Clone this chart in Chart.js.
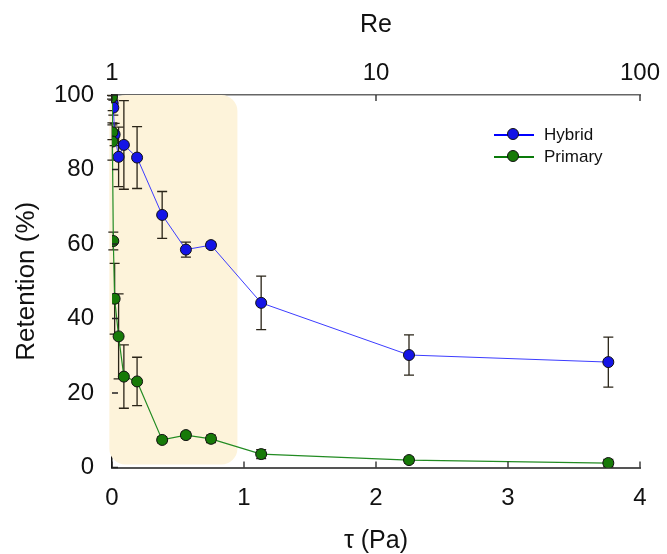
<!DOCTYPE html>
<html>
<head>
<meta charset="utf-8">
<script src="https://cdn.jsdelivr.net/npm/chart.js@4.4.1/dist/chart.umd.min.js"></script>
<style>
  html, body { margin: 0; padding: 0; background: #fff; }
  #wrap { position: relative; width: 667px; height: 554px; }
  #legend { position: absolute; left: 494px; top: 124px; font-family: "Liberation Sans", Arial, sans-serif; font-size: 17px; color: #111; }
  #legend .row { display: flex; align-items: center; height: 22px; }
  #legend .key { position: relative; width: 40px; height: 22px; margin-right: 10px; }
  #legend .key .ln { position: absolute; left: 0; right: 0; top: 10px; height: 1.5px; }
  #legend .key .dot { position: absolute; left: 13px; top: 4px; width: 12px; height: 12px; border-radius: 50%; border: 1px solid #111; box-sizing: border-box; }
</style>
</head>
<body>
<div id="wrap">
  <canvas id="chart" width="667" height="554"></canvas>
  <div id="legend"></div>
</div>
<script>
// shear stress (Pa) and retention (%)
const hybridTau = [0.005, 0.01, 0.02, 0.05, 0.09, 0.19, 0.38, 0.56, 0.75, 1.13, 2.25, 3.76];
const hybridRet = [97.8, 96.6, 89.4, 83.4, 86.6, 83.2, 67.8, 58.5, 59.7, 44.2, 30.2, 28.3];
const hybridErr = [2, 2, 3, 8, 11.9, 8.3, 6.3, 2, 0.8, 7.2, 5.4, 6.7];

const primaryTau = [0, 0.003, 0.003, 0.01, 0.02, 0.05, 0.09, 0.19, 0.38, 0.56, 0.75, 1.13, 2.25, 3.76];
const primaryRet = [99.4, 90, 87.5, 60.8, 45.3, 35.2, 24.4, 23.1, 7.4, 8.7, 7.7, 3.6, 2.0, 1.2];
const primaryErr = [0.5, 2, 5, 2.4, 9.5, 11.4, 8.5, 6.5, 0.8, 0.8, 1, 1.2, 0.8, 1];

const xTicks = [0, 1, 2, 3, 4];
const yTicks = [0, 20, 40, 60, 80, 100];
const reTicks = [1, 10, 100];

// highlighted low-stress region (tau range, retention range)
const regionTau = [-0.02, 0.95];
const regionRet = [0.8, 100];

const FONT = "'Liberation Sans', Arial, sans-serif";
const BLUE = "#1414e6", BLUE_LINE = "#3c3cff";
const GREEN = "#177a08", GREEN_LINE = "#228b22";

function pts(xs, ys) { return xs.map((x, i) => ({ x: x, y: ys[i] })); }

// legend
const series = [
  { name: "Hybrid", fill: BLUE, line: "#0000ff" },
  { name: "Primary", fill: GREEN, line: "#0a7a0a" }
];
const legend = document.getElementById("legend");
series.forEach(s => {
  const row = document.createElement("div");
  row.className = "row";
  row.innerHTML = `<span class="key"><span class="ln" style="background:${s.line}"></span><span class="dot" style="background:${s.fill}"></span></span><span>${s.name}</span>`;
  legend.appendChild(row);
});

const regionPlugin = {
  id: "region",
  beforeDatasetsDraw(chart) {
    const { ctx, scales: { x, y } } = chart;
    const x0 = x.getPixelForValue(regionTau[0]), x1 = x.getPixelForValue(regionTau[1]);
    const y0 = y.getPixelForValue(regionRet[1]), y1 = y.getPixelForValue(regionRet[0]);
    ctx.save();
    ctx.fillStyle = "#fdf3da";
    ctx.beginPath();
    ctx.roundRect(x0, y0, x1 - x0, y1 - y0, 16);
    ctx.fill();
    ctx.restore();
  }
};

const errorBars = {
  id: "errorBars",
  beforeDatasetsDraw(chart) {
    const { ctx, scales: { x, y } } = chart;
    ctx.save();
    ctx.strokeStyle = "#2a2418";
    ctx.lineWidth = 1.3;
    chart.data.datasets.forEach(ds => {
      ds.data.forEach((p, i) => {
        const e = ds.err[i];
        const px = x.getPixelForValue(p.x);
        const top = y.getPixelForValue(p.y + e), bot = y.getPixelForValue(p.y - e);
        ctx.beginPath();
        ctx.moveTo(px, top); ctx.lineTo(px, bot);
        ctx.moveTo(px - 5, top); ctx.lineTo(px + 5, top);
        ctx.moveTo(px - 5, bot); ctx.lineTo(px + 5, bot);
        ctx.stroke();
      });
    });
    ctx.restore();
  }
};

// tick marks pointing into the plot
const innerTicks = {
  id: "innerTicks",
  afterDraw(chart) {
    const { ctx, chartArea: a, scales: { x, y, re } } = chart;
    ctx.save();
    ctx.lineWidth = 1.3;
    ctx.strokeStyle = "#222";
    ctx.beginPath();
    xTicks.forEach(v => { const px = x.getPixelForValue(v); ctx.moveTo(px, a.bottom); ctx.lineTo(px, a.bottom - 6); });
    yTicks.forEach(v => { const py = y.getPixelForValue(v); ctx.moveTo(a.left, py); ctx.lineTo(a.left + 6, py); });
    reTicks.forEach(v => { const px = re.getPixelForValue(v); ctx.moveTo(px, a.top); ctx.lineTo(px, a.top + 6); });
    ctx.stroke();
    ctx.restore();
  }
};

function fixHeight(h) {
  return s => { s.height = h; s.paddingLeft = 0; s.paddingRight = 0; };
}

new Chart(document.getElementById("chart"), {
  type: "line",
  data: {
    datasets: [
      {
        label: "Hybrid",
        data: pts(hybridTau, hybridRet),
        err: hybridErr,
        borderColor: BLUE_LINE,
        borderWidth: 1,
        backgroundColor: BLUE,
        pointBackgroundColor: BLUE,
        pointBorderColor: "#111",
        pointBorderWidth: 1,
        pointRadius: 5.5,
        tension: 0,
        order: 2
      },
      {
        label: "Primary",
        data: pts(primaryTau, primaryRet),
        err: primaryErr,
        borderColor: GREEN_LINE,
        borderWidth: 1.2,
        backgroundColor: GREEN,
        pointBackgroundColor: GREEN,
        pointBorderColor: "#111",
        pointBorderWidth: 1,
        pointRadius: 5.5,
        tension: 0,
        order: 1
      }
    ]
  },
  options: {
    responsive: false,
    animation: false,
    layout: { padding: { left: 0, right: 27, top: 0, bottom: 0 } },
    plugins: { legend: { display: false }, tooltip: { enabled: false } },
    scales: {
      x: {
        type: "linear",
        position: "bottom",
        min: 0, max: 4,
        afterBuildTicks: s => { s.ticks = xTicks.map(v => ({ value: v })); },
        afterFit: fixHeight(86.5),
        grid: { drawOnChartArea: false, drawTicks: false },
        border: { display: true, color: "#555", width: 2 },
        ticks: { color: "#111", padding: 19, font: { family: FONT, size: 24, lineHeight: 1 } },
        title: { display: true, text: "τ (Pa)", color: "#111", padding: { top: 0, bottom: 0 }, font: { family: FONT, size: 25, lineHeight: 1 } }
      },
      re: {
        type: "logarithmic",
        position: "top",
        min: 1, max: 100,
        afterBuildTicks: s => { s.ticks = reTicks.map(v => ({ value: v })); },
        afterFit: fixHeight(95),
        grid: { drawOnChartArea: false, drawTicks: false },
        border: { display: true, color: "#666", width: 1.5 },
        ticks: { color: "#111", padding: 10, callback: v => String(v), font: { family: FONT, size: 24, lineHeight: 1 } },
        title: { display: true, text: "Re", color: "#111", padding: { top: 13, bottom: 0 }, font: { family: FONT, size: 25, lineHeight: 1 } }
      },
      y: {
        type: "linear",
        position: "left",
        min: 0, max: 100,
        afterBuildTicks: s => { s.ticks = yTicks.map(v => ({ value: v })); },
        afterFit: s => { s.width = 112; s.paddingTop = 0; s.paddingBottom = 0; },
        grid: { drawOnChartArea: false, drawTicks: false },
        border: { display: true, color: "#111", width: 1.5 },
        ticks: { color: "#111", padding: 18, font: { family: FONT, size: 24, lineHeight: 1 } },
        title: { display: true, text: "Retention (%)", color: "#111", padding: { top: 14, bottom: 0 }, font: { family: FONT, size: 26, lineHeight: 1 } }
      }
    }
  },
  plugins: [regionPlugin, errorBars, innerTicks]
});
</script>
</body>
</html>
